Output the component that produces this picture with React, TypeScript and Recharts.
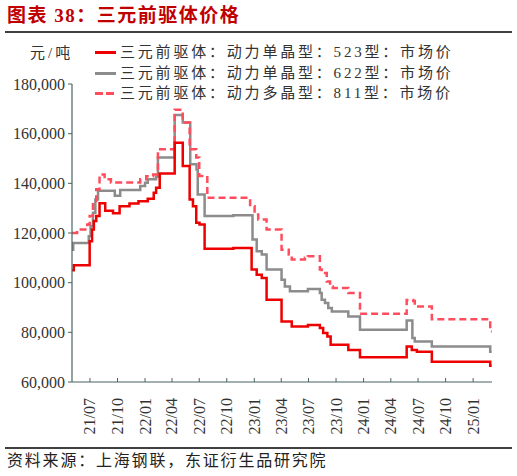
import React from 'react';
import { LineChart, Line, XAxis, YAxis } from 'recharts';

// 三元前驱体价格（元/吨），阶梯变化点
const SERIES_NAMES = [
  '三元前驱体：动力单晶型：523型：市场价',
  '三元前驱体：动力单晶型：622型：市场价',
  '三元前驱体：动力多晶型：811型：市场价',
];

const p523Dates = [
  '2021-05-02', '2021-05-08', '2021-06-30', '2021-07-08', '2021-07-14', '2021-07-22',
  '2021-08-02', '2021-08-21', '2021-09-16', '2021-10-08', '2021-11-10', '2021-12-10',
  '2022-01-10', '2022-01-30', '2022-02-07', '2022-02-19', '2022-04-10', '2022-05-07',
  '2022-05-30', '2022-06-10', '2022-06-21', '2022-07-02', '2022-07-19', '2022-10-23',
  '2022-12-23', '2023-01-09', '2023-01-26', '2023-02-11', '2023-04-02', '2023-05-06',
  '2023-06-29', '2023-08-08', '2023-08-19', '2023-09-02', '2023-09-13', '2023-11-11',
  '2023-12-20', '2024-05-24', '2024-06-10', '2024-06-27', '2024-08-16', '2025-02-27',
  '2025-03-04',
];
const p523Values = [
  105000, 107000, 116700, 121400, 124800, 126800,
  132000, 129000, 128000, 130800, 131900, 132800,
  133800, 136200, 138200, 144000, 156300, 147000,
  133500, 130800, 124100, 123400, 113700, 114000,
  105300, 103200, 101900, 93100, 84400, 82300,
  83000, 81700, 79700, 78300, 75000, 72900,
  70000, 74300, 72900, 72200, 68200, 66500,
  66500,
];

const p622Dates = [
  '2021-05-02', '2021-05-06', '2021-06-27', '2021-07-03', '2021-07-11', '2021-07-19',
  '2021-07-28', '2021-09-22', '2021-10-10', '2021-12-16', '2022-01-01', '2022-01-10',
  '2022-02-07', '2022-02-13', '2022-04-10', '2022-05-07', '2022-06-01', '2022-06-22',
  '2022-06-26', '2022-07-19', '2022-10-23', '2022-12-26', '2023-01-09', '2023-01-26',
  '2023-02-11', '2023-04-02', '2023-04-13', '2023-04-30', '2023-06-29', '2023-08-08',
  '2023-08-14', '2023-08-25', '2023-09-05', '2023-09-17', '2023-11-11', '2023-12-20',
  '2024-05-24', '2024-06-12', '2024-06-20', '2024-08-16', '2025-02-27', '2025-03-04',
];
const p622Values = [
  113300, 116000, 118700, 122700, 128200, 133500,
  137000, 135000, 137300, 138900, 140200, 141600,
  142700, 150400, 167500, 164500, 147700, 145600,
  135500, 126800, 127100, 117400, 112700, 111300,
  105300, 101200, 98500, 96500, 97500, 95800,
  93100, 91800, 89800, 88400, 86400, 81000,
  84800, 77700, 76300, 74300, 72200, 72200,
];

const p811Dates = [
  '2021-05-02', '2021-05-19', '2021-06-22', '2021-06-30', '2021-07-11', '2021-07-22',
  '2021-08-02', '2021-08-19', '2021-09-09', '2021-12-16', '2022-01-05', '2022-01-28',
  '2022-02-13', '2022-04-10', '2022-05-07', '2022-05-30', '2022-06-21', '2022-07-01',
  '2022-07-28', '2022-12-18', '2023-01-02', '2023-01-14', '2023-02-11', '2023-04-02',
  '2023-04-26', '2023-05-06', '2023-06-19', '2023-06-29', '2023-08-08', '2023-08-14',
  '2023-08-31', '2023-09-11', '2023-09-20', '2023-11-11', '2023-12-20', '2024-05-24',
  '2024-06-15', '2024-06-20', '2024-06-26', '2024-08-16', '2025-02-27', '2025-03-04',
];
const p811Values = [
  120000, 121400, 123400, 126800, 132200, 137600,
  143600, 141600, 140300, 141600, 142900, 143600,
  153700, 169600, 164500, 153700, 150400, 143000,
  134200, 130800, 127500, 125400, 121400, 113300,
  111300, 109300, 110000, 110600, 105300, 103900,
  100500, 98500, 97900, 95800, 87500, 93000,
  92600, 91100, 90400, 85300, 80300, 80300,
];

const xTickDates = [
  '2021-07-01', '2021-10-01', '2022-01-01', '2022-04-01', '2022-07-01',
  '2022-10-01', '2023-01-01', '2023-04-01', '2023-07-01', '2023-10-01',
  '2024-01-01', '2024-04-01', '2024-07-01', '2024-10-01', '2025-01-01',
];
const yTicks = [60000, 80000, 100000, 120000, 140000, 160000, 180000];
const X_START = '2021-05-02';
const X_END = '2025-03-05';

const RED = '#ee0000';
const GRAY = '#8c8c8c';
const PINK = '#ff4d5e';
const AXIS = '#4a6363';
const TEXT = '#333333';
const FONT = "'Liberation Serif', 'Noto Sans CJK SC', serif";

const toTs = (s: string) => Date.parse(s + 'T00:00:00Z');
const zip = (dates: string[], values: number[]) =>
  dates.map((d, i) => ({ t: toTs(d), v: values[i] }));

const s523 = zip(p523Dates, p523Values);
const s622 = zip(p622Dates, p622Values);
const s811 = zip(p811Dates, p811Values);

const fmtDate = (ts: number) => {
  const d = new Date(ts);
  const yy = String(d.getUTCFullYear()).slice(2);
  const mm = String(d.getUTCMonth() + 1).padStart(2, '0');
  return `${yy}/${mm}`;
};

const DateTick = (props: any) => {
  const { x, y, payload } = props;
  const ty = y + 16;
  return (
    <g>
      <line x1={x} x2={x} y1={y} y2={y - 4} stroke={AXIS} strokeWidth={1} />
      <text
        x={x}
        y={ty}
        transform={`rotate(-90 ${x} ${ty})`}
        textAnchor="end"
        dominantBaseline="central"
        fontFamily={FONT}
        fontSize={16}
        fill={TEXT}
      >
        {fmtDate(payload.value)}
      </text>
    </g>
  );
};

const legendItems = [
  { name: SERIES_NAMES[0], color: RED, dash: undefined },
  { name: SERIES_NAMES[1], color: GRAY, dash: undefined },
  { name: SERIES_NAMES[2], color: PINK, dash: '8 3' },
];

export default function App() {
  return (
    <div
      style={{
        position: 'absolute',
        left: 0,
        top: 0,
        width: 517,
        height: 476,
        background: '#fff',
        fontFamily: FONT,
        overflow: 'hidden',
      }}
    >
      <LineChart
        width={517}
        height={476}
        margin={{ top: 84, right: 25, left: 12, bottom: 34 }}
      >
        <XAxis
          dataKey="t"
          type="number"
          domain={[toTs(X_START), toTs(X_END)]}
          allowDataOverflow
          ticks={xTickDates.map(toTs)}
          interval={0}
          tick={<DateTick />}
          tickLine={false}
          tickSize={0}
          tickMargin={0}
          height={60}
          axisLine={{ stroke: AXIS, strokeWidth: 1.2 }}
        />
        <YAxis
          type="number"
          domain={[60000, 180000]}
          ticks={yTicks}
          interval={0}
          width={60}
          tickSize={4}
          tickMargin={3}
          tickFormatter={(v: number) => v.toLocaleString('en-US')}
          tick={{ fill: TEXT, fontSize: 16, fontFamily: FONT }}
          tickLine={{ stroke: AXIS }}
          axisLine={{ stroke: AXIS, strokeWidth: 1.2 }}
        />
        <Line
          data={s622}
          dataKey="v"
          type="stepAfter"
          stroke={GRAY}
          strokeWidth={2.5}
          dot={false}
          activeDot={false}
          isAnimationActive={false}
        />
        <Line
          data={s811}
          dataKey="v"
          type="stepAfter"
          stroke={PINK}
          strokeWidth={2.5}
          strokeDasharray="7 4"
          dot={false}
          activeDot={false}
          isAnimationActive={false}
        />
        <Line
          data={s523}
          dataKey="v"
          type="stepAfter"
          stroke={RED}
          strokeWidth={2.5}
          dot={false}
          activeDot={false}
          isAnimationActive={false}
        />
      </LineChart>

      {/* 标题 */}
      <div
        style={{
          position: 'absolute',
          left: 7,
          top: 6,
          fontSize: 19,
          lineHeight: '20px',
          fontWeight: 700,
          color: '#c00000',
          letterSpacing: 1.5,
          whiteSpace: 'nowrap',
        }}
      >
        图表 38：三元前驱体价格
      </div>
      <div style={{ position: 'absolute', left: 5, top: 31, width: 507, height: 1.5, background: '#404040' }} />

      {/* 单位 */}
      <div
        style={{
          position: 'absolute',
          left: 30,
          top: 46,
          fontSize: 15,
          lineHeight: '15px',
          letterSpacing: 3,
          color: TEXT,
          whiteSpace: 'nowrap',
        }}
      >
        元/吨
      </div>

      {/* 图例 */}
      {legendItems.map((it, i) => (
        <div
          key={it.name}
          style={{
            position: 'absolute',
            left: 95,
            top: 45 + i * 20.7,
            height: 15,
            display: 'flex',
            alignItems: 'center',
            whiteSpace: 'nowrap',
          }}
        >
          <svg width={22} height={15} style={{ display: 'block' }}>
            <line x1={0} x2={21} y1={7.5} y2={7.5} stroke={it.color} strokeWidth={3} strokeDasharray={it.dash} />
          </svg>
          <span
            style={{
              marginLeft: 3,
              fontSize: 15,
              lineHeight: '15px',
              letterSpacing: 2.8,
              color: TEXT,
            }}
          >
            {it.name}
          </span>
        </div>
      ))}

      {/* 资料来源 */}
      <div style={{ position: 'absolute', left: 5, top: 447, width: 507, height: 1.5, background: '#404040' }} />
      <div
        style={{
          position: 'absolute',
          left: 7,
          top: 452,
          fontSize: 16,
          lineHeight: '17px',
          letterSpacing: 1.8,
          color: '#222',
          whiteSpace: 'nowrap',
        }}
      >
        资料来源：上海钢联，东证衍生品研究院
      </div>
    </div>
  );
}
